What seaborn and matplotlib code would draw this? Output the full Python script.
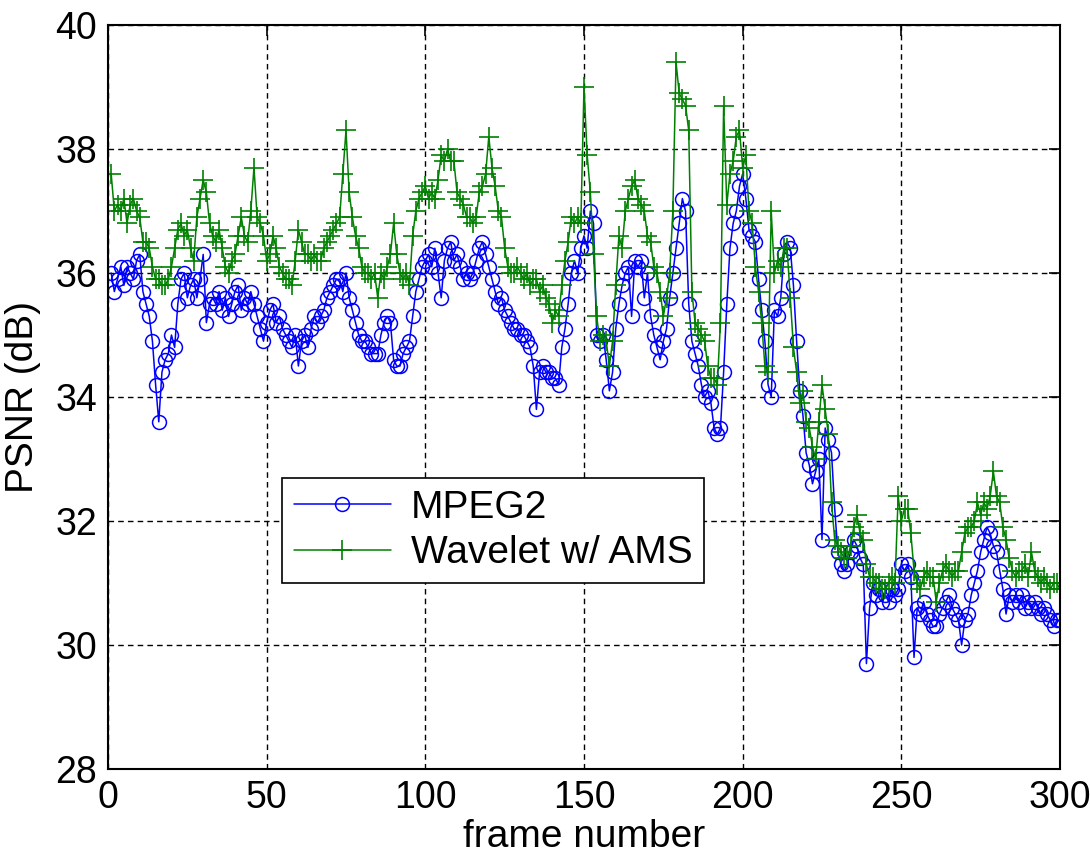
import matplotlib
matplotlib.use("Agg")
import matplotlib.pyplot as plt
import seaborn as sns
import numpy as np
import pandas as pd

frames = list(range(1, 301))

mpeg2 = [
    36.0, 35.7, 35.9, 36.1, 35.8, 36.1, 36.0, 35.9, 36.2, 36.3,
    35.7, 35.5, 35.3, 34.9, 34.2, 33.6, 34.4, 34.6, 34.7, 35.0,
    34.8, 35.5, 35.9, 36.0, 35.6, 35.8, 35.9, 35.6, 35.9, 36.3,
    35.2, 35.5, 35.6, 35.5, 35.7, 35.4, 35.6, 35.3, 35.5, 35.7,
    35.8, 35.4, 35.6, 35.5, 35.7, 35.5, 35.3, 35.1, 34.9, 35.2,
    35.4, 35.5, 35.2, 35.3, 35.1, 35.0, 34.9, 34.8, 35.0, 34.5,
    34.9, 35.0, 34.8, 35.1, 35.3, 35.2, 35.3, 35.4, 35.6, 35.7,
    35.8, 35.9, 35.9, 35.7, 36.0, 35.6, 35.4, 35.2, 35.0, 34.9,
    34.9, 34.8, 34.7, 34.7, 34.7, 35.0, 35.2, 35.3, 35.2, 34.6,
    34.5, 34.5, 34.7, 34.8, 34.9, 35.3, 35.7, 35.9, 36.1, 36.2,
    36.3, 36.1, 36.4, 36.0, 35.6, 36.2, 36.4, 36.5, 36.2, 36.3,
    36.1, 35.9, 36.0, 35.9, 36.0, 36.2, 36.4, 36.5, 36.3, 36.1,
    35.9, 35.7, 35.5, 35.6, 35.4, 35.3, 35.2, 35.1, 35.1, 35.0,
    35.0, 34.9, 34.8, 34.5, 33.8, 34.4, 34.5, 34.4, 34.4, 34.3,
    34.3, 34.2, 34.8, 35.1, 35.5, 36.0, 36.2, 36.0, 36.4, 36.6,
    36.4, 37.0, 36.8, 35.0, 34.9, 35.0, 34.6, 34.1, 34.4, 35.1,
    35.5, 35.8, 36.0, 36.1, 35.3, 36.2, 36.1, 36.2, 35.6, 36.0,
    35.3, 35.0, 34.8, 34.6, 34.9, 35.1, 35.6, 36.0, 36.4, 36.8,
    37.2, 37.0, 35.5, 34.9, 34.7, 34.5, 34.2, 34.0, 34.1, 33.9,
    33.5, 33.4, 33.5, 34.4, 35.5, 36.4, 36.8, 37.0, 37.4, 37.6,
    37.2, 36.7, 36.6, 36.5, 35.9, 35.4, 34.9, 34.2, 34.0, 35.4,
    35.3, 35.6, 36.3, 36.5, 36.4, 35.8, 34.9, 34.1, 33.7, 33.1,
    32.9, 32.6, 32.8, 33.0, 31.7, 33.5, 33.3, 33.1, 32.2, 31.5,
    31.3, 31.2, 31.3, 31.5, 31.7, 31.6, 31.4, 31.3, 29.7, 30.6,
    31.0, 30.8, 30.9, 30.7, 30.8, 30.7, 30.9, 30.8, 30.9, 31.3,
    31.2, 31.3, 31.1, 29.8, 30.6, 30.5, 30.7, 30.5, 30.4, 30.3,
    30.3, 30.5, 30.6, 30.7, 30.8, 30.6, 30.5, 30.4, 30.0, 30.4,
    30.5, 30.8, 31.0, 31.2, 31.5, 31.7, 31.9, 31.8, 31.6, 31.5,
    31.2, 30.9, 30.5, 30.8, 30.7, 30.8, 30.7, 30.8, 30.6, 30.7,
    30.6, 30.7, 30.6, 30.5, 30.6, 30.5, 30.4, 30.3, 30.4, 30.4,
]

wavelet_ams = [
    37.6, 37.0, 37.1, 37.0, 37.2, 36.8, 37.1, 37.2, 37.0, 36.9,
    36.5, 36.5, 36.4, 36.1, 35.9, 35.9, 35.8, 35.8, 35.9, 36.1,
    36.4, 36.7, 36.8, 36.6, 36.7, 36.4, 36.2, 36.9, 37.2, 37.5,
    37.3, 36.8, 36.6, 36.5, 36.7, 36.4, 36.1, 36.0, 36.2, 36.3,
    36.6, 36.9, 36.6, 36.5, 37.0, 37.7, 36.9, 36.8, 36.6, 36.2,
    36.3, 36.6, 36.4, 36.1, 36.0, 35.9, 35.9, 35.8, 36.2, 36.7,
    36.5, 36.3, 36.3, 36.2, 36.3, 36.2, 36.2, 36.4, 36.5, 36.6,
    36.7, 36.8, 36.9, 37.6, 38.3, 37.3, 36.9, 36.6, 36.4, 36.1,
    36.0, 36.0, 35.9, 36.0, 35.6, 36.0, 35.9, 36.1, 36.3, 36.8,
    36.3, 36.0, 35.9, 36.0, 35.8, 36.6, 37.0, 37.2, 37.3, 37.4,
    37.2, 37.3, 37.2, 37.5, 37.9, 37.8, 38.0, 37.8, 37.8, 37.3,
    37.2, 37.1, 36.9, 36.9, 36.8, 36.9, 37.3, 37.4, 37.6, 38.2,
    37.7, 37.4, 37.0, 36.9, 36.4, 36.1, 36.0, 36.0, 36.1, 36.0,
    35.9, 36.0, 35.8, 35.9, 35.9, 35.7, 35.8, 35.6, 35.5, 35.2,
    35.4, 35.3, 35.8, 36.2, 36.5, 36.9, 36.8, 36.9, 36.8, 39.0,
    37.9, 37.3, 36.3, 35.3, 34.9, 35.0, 34.9, 34.5, 34.9, 35.8,
    36.6, 36.4, 37.0, 37.2, 37.4, 37.5, 37.2, 37.1, 37.0, 36.6,
    36.5, 36.1, 36.0, 35.7, 35.3, 35.6, 36.0, 37.0, 39.4, 38.9,
    38.8, 38.7, 38.3, 35.7, 35.2, 35.1, 35.0, 34.9, 34.5, 34.3,
    34.3, 34.2, 35.2, 38.7, 37.1, 37.6, 37.8, 38.2, 38.3, 37.7,
    37.9, 37.0, 36.8, 36.1, 35.7, 35.2, 34.5, 34.4, 37.0, 36.0,
    36.2, 36.1, 36.4, 36.4, 35.6, 34.8, 34.4, 33.9, 34.1, 33.6,
    33.5, 33.2, 33.0, 33.6, 34.2, 33.8, 33.4, 32.3, 31.7, 31.6,
    31.5, 31.4, 31.4, 31.6, 31.9, 32.1, 31.8, 31.7, 31.3, 31.1,
    31.1, 31.0, 31.0, 30.9, 30.9, 31.0, 31.1, 31.0, 32.4, 32.0,
    32.2, 32.2, 31.8, 31.2, 31.0, 30.9, 31.1, 31.2, 31.1, 31.1,
    30.7, 31.0, 31.2, 31.3, 31.2, 31.1, 31.2, 31.2, 31.5, 31.8,
    31.9, 31.9, 32.0, 32.3, 32.1, 32.3, 32.2, 32.4, 32.8, 32.4,
    32.3, 31.9, 31.7, 31.4, 31.2, 31.1, 31.2, 31.2, 31.3, 31.1,
    31.5, 31.2, 31.1, 31.0, 31.1, 31.0, 30.9, 31.0, 31.0, 30.9,
]

series_names = ["MPEG2", "Wavelet w/ AMS"]
x_ticks = [0, 50, 100, 150, 200, 250, 300]
y_ticks = [28, 30, 32, 34, 36, 38, 40]

sns.set_theme(style="white")
plt.rcParams["font.family"] = ["Liberation Sans", "DejaVu Sans"]
plt.rcParams["text.color"] = "black"
plt.rcParams["axes.labelcolor"] = "black"

df = pd.DataFrame({"frame": frames, series_names[0]: mpeg2, series_names[1]: wavelet_ams})

fig = plt.figure(figsize=(10.9, 8.59), dpi=100)
ax = fig.add_axes([108 / 1090, 1 - 769 / 859, 952 / 1090, 744 / 859])

sns.lineplot(data=df, x="frame", y=series_names[0], ax=ax, color="#0000ff",
             marker="o", markersize=10, markerfacecolor="none",
             markeredgecolor="#0000ff", markeredgewidth=1.1, linewidth=1.1,
             label=series_names[0])
sns.lineplot(data=df, x="frame", y=series_names[1], ax=ax, color="#008000",
             marker="+", markersize=14, markeredgecolor="#008000",
             markeredgewidth=1.2, linewidth=1.1, label=series_names[1])

ax.set_xlim(0, 300)
ax.set_ylim(28, 40)
ax.set_xticks(x_ticks)
ax.set_yticks(y_ticks)
ax.grid(True, color="black", linestyle=(0, (4, 3)), linewidth=1.0)
ax.set_axisbelow(True)
for s in ax.spines.values():
    s.set_visible(True)
    s.set_color("black")
    s.set_linewidth(1.5)
ax.tick_params(direction="in", length=8, width=1.2, top=True, right=True,
               labelsize=27, colors="black", pad=8)
ax.set_xlabel("frame number", fontsize=28, labelpad=2, color="black")
ax.set_ylabel("PSNR (dB)", fontsize=28, labelpad=10, color="black")

leg = ax.legend(loc="upper left", bbox_to_anchor=(0.183, 0.391), frameon=True,
                fancybox=False, edgecolor="black", framealpha=1, fontsize=28,
                handlelength=2.5, borderpad=0.3, labelspacing=0.25,
                handletextpad=0.5, borderaxespad=0)
leg.get_frame().set_linewidth(1.2)
for t in leg.get_texts():
    t.set_color("black")

fig.savefig("out.png", dpi=100)
